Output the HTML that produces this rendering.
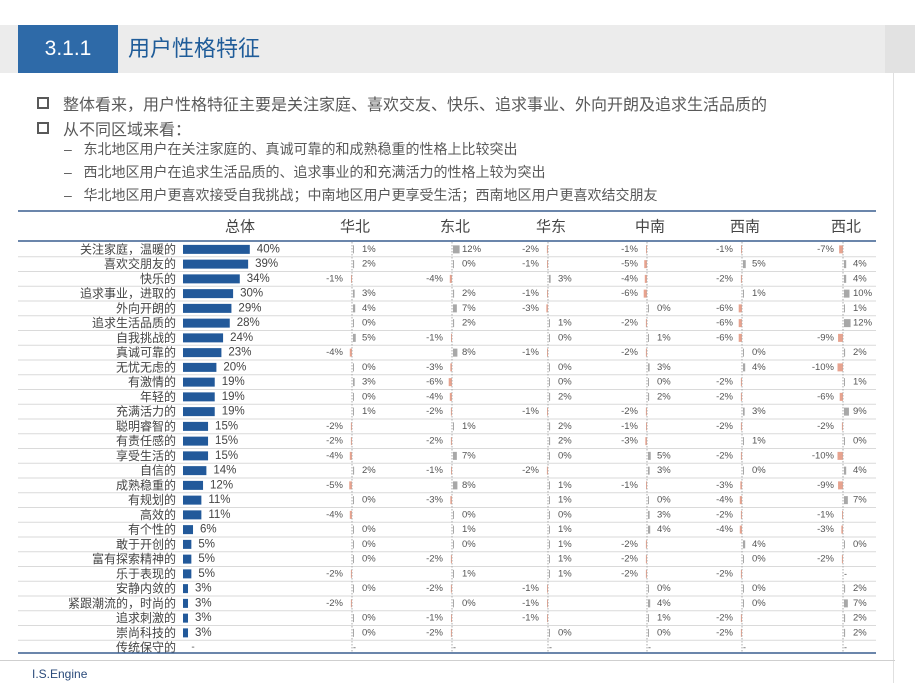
<!DOCTYPE html>
<html><head><meta charset="utf-8">
<style>
body{margin:0;width:915px;height:687px;background:#fff;position:relative;overflow:hidden;font-family:"Liberation Sans","Noto Sans CJK SC",sans-serif;}
.abs{position:absolute;}
</style></head>
<body>
<div class="abs" style="left:0;top:25px;width:915px;height:48px;background:#ececec;"></div>
<div class="abs" style="left:885px;top:25px;width:30px;height:48px;background:#e2e2e2;"></div>
<div class="abs" style="left:18px;top:25px;width:100px;height:48px;background:#2e6aa8;color:#fff;font-size:21px;line-height:48px;text-align:center;">3.1.1</div>
<div class="abs" style="left:128px;top:25px;height:48px;line-height:48px;color:#1f5c99;font-size:22px;">用户性格特征</div>
<div class="abs" style="left:893px;top:73px;width:1px;height:610px;background:#e0e0e0;"></div>

<div class="abs" style="left:37px;top:91px;font-size:16px;color:#595959;white-space:nowrap;"><span style="display:inline-block;width:8px;height:8px;border:2px solid #595959;margin-right:14px;vertical-align:1px;"></span>整体看来，用户性格特征主要是关注家庭、喜欢交友、快乐、追求事业、外向开朗及追求生活品质的</div>
<div class="abs" style="left:37px;top:116px;font-size:16px;color:#595959;white-space:nowrap;"><span style="display:inline-block;width:8px;height:8px;border:2px solid #595959;margin-right:14px;vertical-align:1px;"></span>从不同区域来看：</div>
<div class="abs" style="left:64px;top:139px;font-size:14px;color:#595959;white-space:nowrap;">–&nbsp;&nbsp;&nbsp;东北地区用户在关注家庭的、真诚可靠的和成熟稳重的性格上比较突出</div>
<div class="abs" style="left:64px;top:162px;font-size:14px;color:#595959;white-space:nowrap;">–&nbsp;&nbsp;&nbsp;西北地区用户在追求生活品质的、追求事业的和充满活力的性格上较为突出</div>
<div class="abs" style="left:64px;top:185px;font-size:14px;color:#595959;white-space:nowrap;">–&nbsp;&nbsp;&nbsp;华北地区用户更喜欢接受自我挑战；中南地区用户更享受生活；西南地区用户更喜欢结交朋友</div>

<svg class="abs" style="left:0;top:0" width="915" height="687" id="chart"></svg>

<div class="abs" style="left:0;top:660px;width:895px;height:1px;background:#cfcfcf;"></div>
<div class="abs" style="left:32px;top:667px;font-size:12px;color:#2a4a7a;">I.S.Engine</div>

<script>
const traits=["关注家庭，温暖的","喜欢交朋友的","快乐的","追求事业，进取的","外向开朗的","追求生活品质的","自我挑战的","真诚可靠的","无忧无虑的","有激情的","年轻的","充满活力的","聪明睿智的","有责任感的","享受生活的","自信的","成熟稳重的","有规划的","高效的","有个性的","敢于开创的","富有探索精神的","乐于表现的","安静内敛的","紧跟潮流的，时尚的","追求刺激的","崇尚科技的","传统保守的"];
const regions=["华北","东北","华东","中南","西南","西北"];
const total=[40,39,34,30,29,28,24,23,20,19,19,19,15,15,15,14,12,11,11,6,5,5,5,3,3,3,3,null];
const huabei=[1,2,-1,3,4,0,5,-4,0,3,0,1,-2,-2,-4,2,-5,0,-4,0,0,0,-2,0,-2,0,0,null];
const dongbei=[12,0,-4,2,7,2,-1,8,-3,-6,-4,-2,1,-2,7,-1,8,-3,0,1,0,-2,1,-2,0,-1,-2,null];
const huadong=[-2,-1,3,-1,-3,1,0,-1,0,0,2,-1,2,2,0,-2,1,1,0,1,1,1,1,-1,-1,-1,0,null];
const zhongnan=[-1,-5,-4,-6,0,-2,1,-2,3,0,2,-2,-1,-3,5,3,-1,0,3,4,-2,-2,-2,0,4,1,0,null];
const xinan=[-1,5,-2,1,-6,-6,-6,0,4,-2,-2,3,-2,1,-2,0,-3,-4,-2,-4,4,0,-2,0,0,-2,-2,null];
const xibei=[-7,4,4,10,1,12,-9,2,-10,1,-6,9,-2,0,-10,4,-9,7,-1,-3,0,-2,null,2,7,2,2,null];
const series=[huabei,dongbei,huadong,zhongnan,xinan,xibei];

const NS="http://www.w3.org/2000/svg";
const svg=document.getElementById('chart');
const rowTop=242, rowH=14.75;
const yC=i=>rowTop+rowH*i+rowH/2;
const barX0=183, xTot=v=>v*1.67;
const axisX=[352,452,548,647,742,843];
const xReg=v=>v*0.55;
function mk(tag,attrs){const e=document.createElementNS(NS,tag);for(const k in attrs)e.setAttribute(k,attrs[k]);svg.appendChild(e);return e;}
function txt(x,y,s,size,fill,anchor){const t=mk('text',{x:x,y:y,'font-size':size,fill:fill,'text-anchor':anchor,'dominant-baseline':'central','font-family':'"Liberation Sans","Noto Sans CJK SC",sans-serif'});t.textContent=s;return t;}

let l=mk('line',{x1:18,x2:876,y1:211,y2:211,stroke:'#3a5f8f','stroke-width':1.5});

l=mk('line',{x1:18,x2:876,y1:241,y2:241,stroke:'#3a5f8f','stroke-width':1.5});

let h=txt(240,227,'总体',15,'#444','middle');

regions.forEach((r,j)=>{const t=txt(axisX[j]+3,227,r,15,'#444','middle');
});

traits.forEach((tr,i)=>{
  const yb=rowTop+rowH*(i+1);
  if(i<traits.length-1){const s=mk('line',{x1:18,x2:876,y1:yb,y2:yb,stroke:'#dadada','stroke-width':1});
  }
  const y=yC(i);
  const lab=txt(176,y,tr,12,'#444','end');
  
  const v=total[i];
  if(v==null){const d=txt(193,y,'-',10,'#555','middle');}
  else{
    const b=mk('rect',{x:barX0,y:y-4.5,width:xTot(v),height:9,fill:'#22599a'});
    
    const t=txt(barX0+xTot(v)+7,y,v+'%',11.5,'#444','start');
    
  }
  series.forEach((arr,j)=>{
    const ax=axisX[j], val=arr[i];
    if(val==null){const d=txt(ax+1,y,'-',9,'#555','start');return;}
    const w=Math.max(xReg(Math.abs(val)),1);
    const b=mk('rect',{x:val>=0?ax+1:ax-w,y:y-4,width:w,height:8,fill:val>=0?'#a8a8a8':'#e7a38f'});
    
    const t=val>=0?txt(ax+10,y,val+'%',9.5,'#555','start'):txt(ax-9,y,val+'%',9.5,'#555','end');
    
  });
});
axisX.forEach(ax=>{const a=mk('line',{x1:ax,x2:ax,y1:242,y2:653,stroke:'#aaa','stroke-width':1,'stroke-dasharray':'1.5,1.5'});
});
l=mk('line',{x1:18,x2:876,y1:653,y2:653,stroke:'#3a5f8f','stroke-width':1.5});

</script>
</body></html>
